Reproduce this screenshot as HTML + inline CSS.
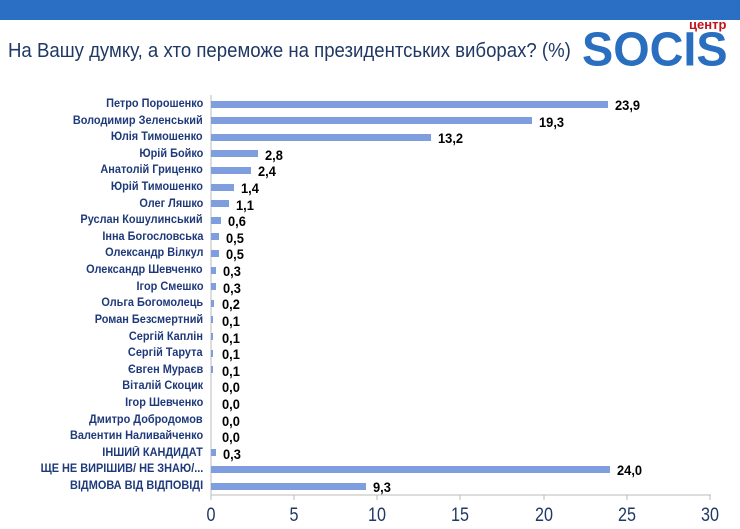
<!DOCTYPE html><html><head><meta charset="utf-8"><style>
body{margin:0;width:740px;height:529px;background:#fff;overflow:hidden;position:relative;font-family:"Liberation Sans",sans-serif}
.band{position:absolute;left:0;top:0;width:740px;height:20px;background:#2b6fc4}
.title{position:absolute;left:8px;top:40px;font-size:20px;color:#1f3864;white-space:nowrap;transform:scaleX(0.93);transform-origin:left}
.logo{position:absolute;left:582px;top:26px;font-size:52px;font-weight:bold;color:#2a6ebf;letter-spacing:0;line-height:52px;transform:scaleX(0.9) scaleY(0.92);transform-origin:left top}
.ctr{position:absolute;left:689px;top:17px;font-size:13px;font-weight:bold;color:#c0121b}
.lab{position:absolute;right:537px;font-size:11.5px;font-weight:bold;color:#1f3a7a;white-space:nowrap;line-height:12px;transform:scaleX(0.95);transform-origin:right}
.bar{position:absolute;left:211px;height:7px;background:#7f9ee0}
.val{position:absolute;font-size:14px;font-weight:bold;color:#000;line-height:14px;transform:scaleX(0.92);transform-origin:left}
.tick{position:absolute;top:505px;font-size:19px;color:#1f3864;width:40px;text-align:center;transform:scaleX(0.85)}
</style></head><body>
<div class="band"></div>
<div class="title">На Вашу думку, а хто переможе на президентських виборах? (%)</div>
<div class="ctr">центр</div>
<div class="logo">SOCIS</div>
<svg style="position:absolute;left:0;top:0" width="740" height="529">
<line x1="211" y1="95" x2="211" y2="495" stroke="#bbb"/>
<line x1="211" y1="495" x2="711" y2="495" stroke="#bbb"/>
<g stroke="#bbb"><line x1="211" y1="495" x2="211" y2="500"/><line x1="294" y1="495" x2="294" y2="500"/><line x1="377" y1="495" x2="377" y2="500"/><line x1="460" y1="495" x2="460" y2="500"/><line x1="544" y1="495" x2="544" y2="500"/><line x1="627" y1="495" x2="627" y2="500"/><line x1="710" y1="495" x2="710" y2="500"/></g>
</svg>
<div id="c"></div>
<div class="tick" style="left:191px">0</div><div class="tick" style="left:274px">5</div><div class="tick" style="left:357px">10</div><div class="tick" style="left:440px">15</div><div class="tick" style="left:524px">20</div><div class="tick" style="left:607px">25</div><div class="tick" style="left:690px">30</div>
<script>
var d=[["Петро Порошенко",23.9],["Володимир Зеленський",19.3],["Юлія Тимошенко",13.2],["Юрій Бойко",2.8],["Анатолій Гриценко",2.4],["Юрій Тимошенко",1.4],["Олег Ляшко",1.1],["Руслан Кошулинський",0.6],["Інна Богословська",0.5],["Олександр Вілкул",0.5],["Олександр Шевченко",0.3],["Ігор Смешко",0.3],["Ольга Богомолець",0.2],["Роман Безсмертний",0.1],["Сергій Каплін",0.1],["Сергій Тарута",0.1],["Євген Мураєв",0.1],["Віталій Скоцик",0.0],["Ігор Шевченко",0.0],["Дмитро Добродомов",0.0],["Валентин Наливайченко",0.0],["ІНШИЙ КАНДИДАТ",0.3],["ЩЕ НЕ ВИРІШИВ/ НЕ ЗНАЮ/...",24.0],["ВІДМОВА ВІД ВІДПОВІДІ",9.3]];
var h="";d.forEach(function(r,i){var y=104+i*((486-104)/23);var w=r[1]*16.63;
h+='<div class="lab" style="top:'+(y-6)+'px">'+r[0]+'</div>';
if(w>0)h+='<div class="bar" style="top:'+(y-3.5)+'px;width:'+Math.max(w,1.5)+'px"></div>';
h+='<div class="val" style="left:'+(211+Math.max(w,4)+7)+'px;top:'+(y-6)+'px">'+r[1].toFixed(1).replace(".",",")+'</div>';});
document.getElementById("c").innerHTML=h;
</script>
</body></html>
